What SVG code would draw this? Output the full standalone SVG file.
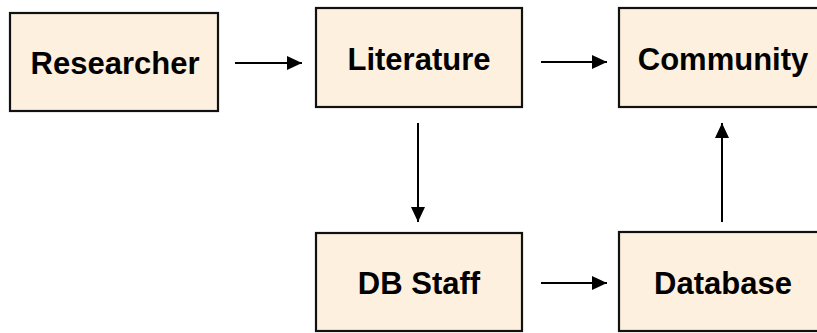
<svg xmlns="http://www.w3.org/2000/svg" width="817" height="333" viewBox="0 0 817 333">
<style>
.box{fill:#FDF0DE;stroke:#111;stroke-width:2.2}
.lbl{font-family:"Liberation Sans",Arial,sans-serif;font-weight:bold;font-size:31px;fill:#000;text-anchor:middle}
.conn{stroke:#000;stroke-width:2;fill:none}
</style>
<defs>
<marker id="ah" markerUnits="userSpaceOnUse" markerWidth="16" markerHeight="14" refX="15" refY="7" orient="auto">
<path d="M0,0 L15,7 L0,14 z" fill="#000"/>
</marker>
</defs>
<rect width="817" height="333" fill="#fff"/>
<g id="researcher"><rect class="box" x="10" y="13" width="208" height="98"/><text class="lbl" x="115" y="73.5">Researcher</text></g>
<g id="literature"><rect class="box" x="316" y="8" width="206" height="99"/><text class="lbl" x="419" y="69.5">Literature</text></g>
<g id="community"><rect class="box" x="619" y="8" width="208" height="99"/><text class="lbl" x="723" y="69.5">Community</text></g>
<g id="dbstaff"><rect class="box" x="316" y="233" width="206" height="98"/><text class="lbl" x="419" y="294">DB Staff</text></g>
<g id="database"><rect class="box" x="619" y="232" width="208" height="99"/><text class="lbl" x="723" y="294">Database</text></g>
<g id="connectors">
<line class="conn" x1="235" y1="63" x2="302" y2="63" marker-end="url(#ah)"/>
<line class="conn" x1="541" y1="62" x2="607" y2="62" marker-end="url(#ah)"/>
<line class="conn" x1="418" y1="123" x2="418" y2="222" marker-end="url(#ah)"/>
<line class="conn" x1="722" y1="222" x2="722" y2="123" marker-end="url(#ah)"/>
<line class="conn" x1="541" y1="283" x2="607" y2="283" marker-end="url(#ah)"/>
</g>
</svg>
